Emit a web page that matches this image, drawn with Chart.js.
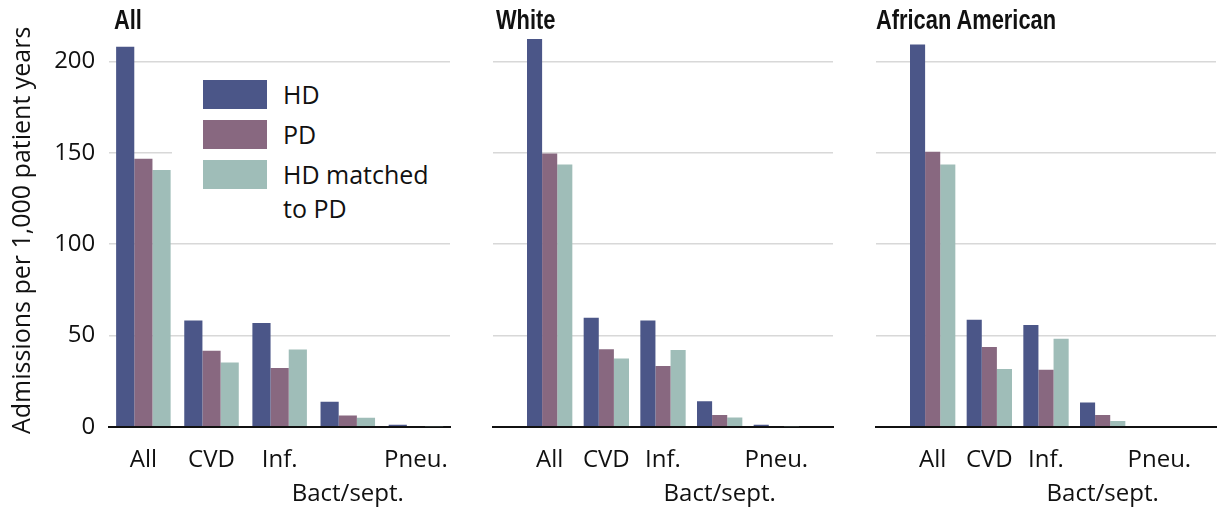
<!DOCTYPE html>
<html>
<head>
<meta charset="utf-8">
<script src="https://cdn.jsdelivr.net/npm/chart.js@4/dist/chart.umd.min.js"></script>
<style>
  body { margin: 0; background: #fff; width: 1228px; height: 514px; overflow: hidden; position: relative; font-family: 'Open Sans', sans-serif; }
  canvas { position: absolute; top: 0; }
  .titulo { position: absolute; top: 0px; font-family: 'Liberation Sans', Arial, sans-serif; font-weight: bold; font-size: 28px; line-height: 40px; color: #111; transform: scaleX(0.78); transform-origin: left top; white-space: nowrap; }
  #legenda { position: absolute; left: 172px; top: 68px; width: 278px; height: 165px; background: #fff; }
  .item { position: absolute; left: 31px; height: 29px; }
  .cor { position: absolute; left: 0; top: 0; width: 64px; height: 29px; }
  .txt { position: absolute; left: 80px; top: -3px; font-size: 25px; line-height: 34px; color: #111; white-space: nowrap; }
</style>
</head>
<body>
<canvas id="g1" width="460" height="514" style="left:0px"></canvas>
<canvas id="g2" width="360" height="514" style="left:483px"></canvas>
<canvas id="g3" width="360" height="514" style="left:866px"></canvas>
<div class="titulo" style="left:114px">All</div>
<div class="titulo" style="left:496px">White</div>
<div class="titulo" style="left:876px">African American</div>
<div id="legenda"></div>
<script>
// ------------------------
// Dados
// ------------------------

const categorias = ['All', 'CVD', 'Inf.', ['', 'Bact/sept.'], 'Pneu.'];
const series = ['HD', 'PD', 'HD matched\nto PD'];
const cores = ['#4b5688', '#886880', '#9fbdb8'];
const ticksY = [0, 50, 100, 150, 200];

// Painel "All"
const allHD = [208, 58.2, 56.8, 13.7, 1.0];
const allPD = [146.7, 41.6, 32.1, 6.2, 0.4];
const allHDm = [140.6, 35.2, 42.3, 4.9, 0.2];

// Painel "White"
const whiteHD = [212.3, 59.6, 58.2, 13.9, 1.0];
const whitePD = [149.6, 42.4, 33.3, 6.4, 0.4];
const whiteHDm = [143.6, 37.3, 42.0, 5.1, 0.2];

// Painel "African American"
const afroHD = [209.2, 58.5, 55.7, 13.2, 0];
const afroPD = [150.5, 43.7, 31.2, 6.4, 0];
const afroHDm = [143.6, 31.6, 48.1, 3.1, 0];

// ------------------------
// Utilidades
// ------------------------

const fonte = "'Open Sans', sans-serif";

function montarDataset(nome, valores, cor) {
  return {
    label: nome,
    data: valores.map((v, i) => ({ x: i, y: v })),
    backgroundColor: cor,
    borderWidth: 0,
    categoryPercentage: 0.8,
    barPercentage: 1
  };
}

function criarPainel(id, dados, primeiro) {
  const ctx = document.getElementById(id).getContext('2d');
  // o primeiro painel é mais largo por categoria
  const xMin = primeiro ? -0.5 : -1;
  const xMax = primeiro ? 4.5 : 5;

  return new Chart(ctx, {
    type: 'bar',
    data: {
      datasets: dados.map((valores, i) => montarDataset(series[i], valores, cores[i]))
    },
    options: {
      responsive: false,
      animation: false,
      layout: { padding: { left: primeiro ? 0 : 10, right: 10, top: 34, bottom: 0 } },
      plugins: {
        legend: { display: false },
        tooltip: { enabled: false }
      },
      scales: {
        x: {
          type: 'linear',
          min: xMin,
          max: xMax,
          offset: false,
          z: 1,
          grid: { display: false, drawTicks: false, offset: false },
          border: { display: true, color: '#111', width: 2 },
          afterBuildTicks: scale => { scale.ticks = categorias.map((c, i) => ({ value: i })); },
          afterFit: scale => {
            scale.height = 87.3;
            scale.paddingLeft = 0;
            scale.paddingRight = 0;
          },
          ticks: {
            autoSkip: false,
            maxRotation: 0,
            padding: 16,
            color: '#111',
            font: { family: fonte, size: 24, lineHeight: 1.42 },
            callback: v => categorias[v] ?? ''
          }
        },
        y: {
          min: 0,
          max: 215,
          grid: {
            drawTicks: false,
            lineWidth: 1.5,
            color: c => c.tick && c.tick.value === 0 ? 'rgba(0,0,0,0)' : '#d8d8d8'
          },
          border: { display: false },
          afterFit: scale => {
            scale.width = primeiro ? 109.3 : 0;
            scale.paddingTop = 0;
            scale.paddingBottom = 0;
          },
          ticks: {
            display: primeiro,
            stepSize: 50,
            includeBounds: false,
            padding: 14,
            color: '#111',
            font: { family: fonte, size: 24 },
            callback: v => ticksY.includes(v) ? v : ''
          },
          title: {
            display: primeiro,
            text: 'Admissions per 1,000 patient years',
            color: '#111',
            font: { family: fonte, size: 25 },
            padding: { top: 8, bottom: 0 }
          }
        }
      }
    }
  });
}

// ------------------------
// Gráficos
// ------------------------

criarPainel('g1', [allHD, allPD, allHDm], true);
criarPainel('g2', [whiteHD, whitePD, whiteHDm], false);
criarPainel('g3', [afroHD, afroPD, afroHDm], false);

// ------------------------
// Legenda (dentro do primeiro painel)
// ------------------------

const legenda = document.getElementById('legenda');
series.forEach((nome, i) => {
  const item = document.createElement('div');
  item.className = 'item';
  item.style.top = (12 + i * 40) + 'px';
  item.innerHTML = `<div class="cor" style="background:${cores[i]}"></div>
    <div class="txt">${nome.replace('\n', '<br>')}</div>`;
  legenda.appendChild(item);
});
</script>
</body>
</html>
